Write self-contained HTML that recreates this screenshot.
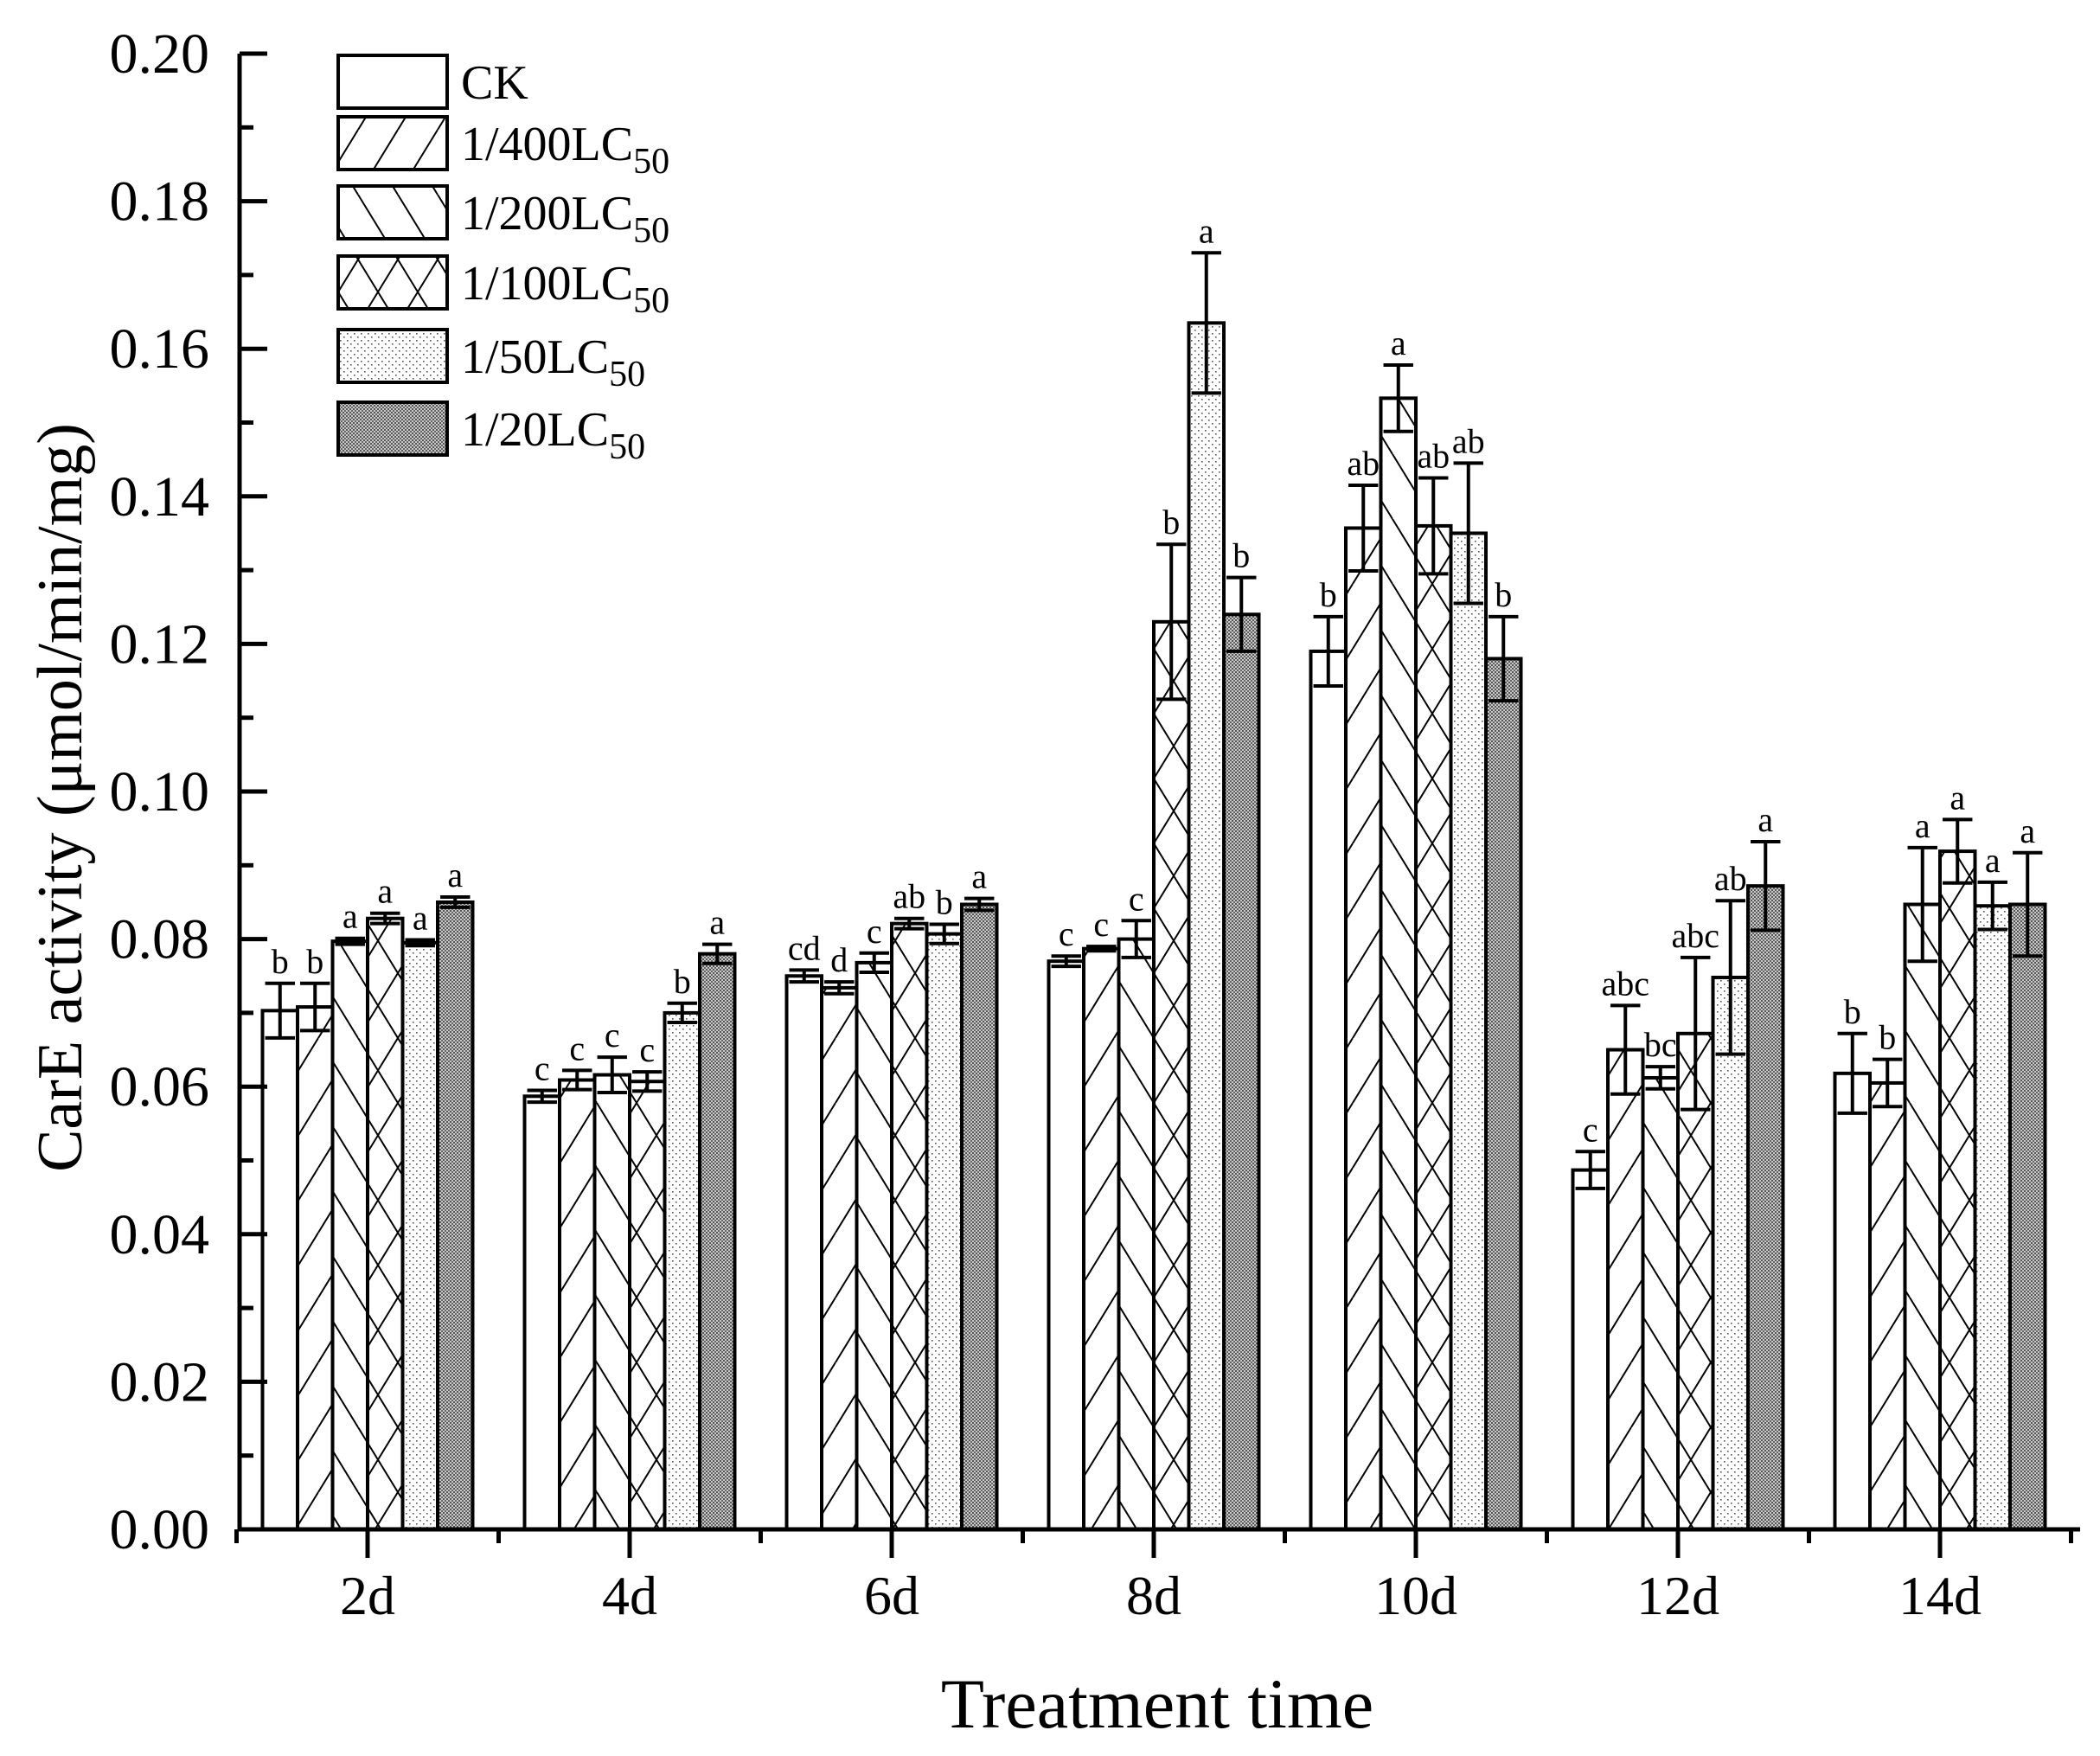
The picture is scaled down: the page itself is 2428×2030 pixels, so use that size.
<!DOCTYPE html>
<html><head><meta charset="utf-8"><style>
html,body{margin:0;padding:0;background:#fff;}
svg{display:block;font-family:"Liberation Serif",serif;}
</style></head><body>
<svg id="chart" width="2428" height="2030" viewBox="0 0 2428 2030" xmlns="http://www.w3.org/2000/svg">
<defs>
<pattern id="p400" patternUnits="userSpaceOnUse" width="46" height="75"><path d="M0,75 L46,0 M-23,37.5 L0,0 M23,112.5 L46,75 M46,75 L69,37.5" stroke="#000" stroke-width="2"/></pattern>
<pattern id="p200" patternUnits="userSpaceOnUse" width="46" height="75"><path d="M0,0 L46,75 M-23,37.5 L0,75 M23,-37.5 L46,0 M46,0 L69,37.5" stroke="#000" stroke-width="2"/></pattern>
<pattern id="p100" patternUnits="userSpaceOnUse" width="46" height="75"><path d="M0,75 L46,0 M0,0 L46,75" stroke="#000" stroke-width="2"/></pattern>
<pattern id="p50" patternUnits="userSpaceOnUse" width="8" height="8"><rect width="8" height="8" fill="#fff"/><rect x="1" y="1" width="1.6" height="1.6" fill="#555"/><rect x="5" y="5" width="1.6" height="1.6" fill="#555"/></pattern>
<pattern id="p20" patternUnits="userSpaceOnUse" width="4" height="4"><rect width="4" height="4" fill="#c8c8c8"/><rect x="0" y="0" width="2" height="2" fill="#555"/><rect x="2" y="2" width="2" height="2" fill="#666"/></pattern>
</defs>
<g id="plot"></g>
</svg>
<script>
const categories = ["2d","4d","6d","8d","10d","12d","14d"];
const seriesNames = ["CK","1/400LC","1/200LC","1/100LC","1/50LC","1/20LC"];
const valCK   = [0.0703,0.0587,0.0750,0.0770,0.1190,0.0487,0.0618];
const val400  = [0.0708,0.0609,0.0734,0.0787,0.1357,0.0650,0.0605];
const val200  = [0.0797,0.0616,0.0768,0.0800,0.1533,0.0612,0.0847];
const val100  = [0.0828,0.0607,0.0821,0.1230,0.1360,0.0672,0.0919];
const val50   = [0.0795,0.0700,0.0807,0.1635,0.1350,0.0748,0.0845];
const val20   = [0.0850,0.0780,0.0847,0.1240,0.1180,0.0872,0.0847];
const errCK   = [0.0037,0.0008,0.0008,0.0007,0.0047,0.0025,0.0054];
const err400  = [0.0032,0.0013,0.0008,0.0003,0.0058,0.0060,0.0032];
const err200  = [0.0004,0.0024,0.0013,0.0025,0.0045,0.0015,0.0077];
const err100  = [0.0007,0.0013,0.0007,0.0105,0.0065,0.0103,0.0043];
const err50   = [0.0004,0.0013,0.0013,0.0095,0.0095,0.0104,0.0032];
const err20   = [0.0007,0.0013,0.0008,0.0050,0.0057,0.0060,0.0070];
const lettersCK  = ["b","c","cd","c","b","c","b"];
const letters400 = ["b","c","d","c","ab","abc","b"];
const letters200 = ["a","c","c","c","a","bc","a"];
const letters100 = ["a","c","ab","b","ab","abc","a"];
const letters50  = ["a","b","b","a","ab","ab","a"];
const letters20  = ["a","a","a","b","b","a","a"];
const yTicks = ["0.00","0.02","0.04","0.06","0.08","0.10","0.12","0.14","0.16","0.18","0.20"];

const NS="http://www.w3.org/2000/svg";
const g=document.getElementById('plot');
function el(t,a,p){const e=document.createElementNS(NS,t);for(const k in a)e.setAttribute(k,a[k]);(p||g).appendChild(e);return e;}
const X0=277,Y0=1768,YTOP=62,XEND=2405,YMAX=0.2;
function y(v){return Y0-(v/YMAX)*(Y0-YTOP);}
const groupW=303,first=425,barW=40.5;
function gx(i){return first+i*groupW;}
function bx(i,s){return gx(i)-3*barW+s*barW;}
const vals=[valCK,val400,val200,val100,val50,val20];
const errs=[errCK,err400,err200,err100,err50,err20];
const lets=[lettersCK,letters400,letters200,letters100,letters50,letters20];
const fills=["#fff","url(#p400)","url(#p200)","url(#p100)","url(#p50)","url(#p20)"];
for(let i=0;i<categories.length;i++){
  for(let s=0;s<6;s++){
    const v=vals[s][i],e=errs[s][i],x=bx(i,s);
    const r=el('rect',{x:x,y:y(v),width:barW,height:Y0-y(v),fill:fills[s],stroke:'#000','stroke-width':4});
    
    
    const cx=x+barW/2,cw=barW*0.85;
    const eb=el('path',{d:`M${cx},${y(v+e)} L${cx},${y(v-e)} M${cx-cw/2},${y(v+e)} L${cx+cw/2},${y(v+e)} M${cx-cw/2},${y(v-e)} L${cx+cw/2},${y(v-e)}`,stroke:'#000','stroke-width':4,fill:'none'});
    
    
    const t=el('text',{x:cx,y:y(v+e)-12,'font-size':40,'text-anchor':'middle'});
    t.textContent=lets[s][i];
    
    
  }
}
const ax=el('path',{d:`M${X0},${YTOP} L${X0},${Y0} L${XEND},${Y0}`,stroke:'#000','stroke-width':5,fill:'none'});


for(let k=0;k<yTicks.length;k++){
  const v=k*0.02,yy=y(v);
  el('line',{x1:X0,x2:X0+32,y1:yy,y2:yy,stroke:'#000','stroke-width':5});
  if(k<yTicks.length-1){const ym=y(v+0.01);el('line',{x1:X0,x2:X0+16,y1:ym,y2:ym,stroke:'#000','stroke-width':5});}
  const t=el('text',{x:242,y:yy+22,'font-size':66,'text-anchor':'end'});
  t.textContent=yTicks[k];
  
  
}
for(let i=0;i<categories.length;i++){
  const cx=gx(i);
  el('line',{x1:cx,x2:cx,y1:Y0,y2:Y0+33,stroke:'#000','stroke-width':5});
  el('line',{x1:cx-groupW/2,x2:cx-groupW/2,y1:Y0,y2:Y0+16,stroke:'#000','stroke-width':5});
  const t=el('text',{x:cx,y:1866,'font-size':64,'text-anchor':'middle'});
  t.textContent=categories[i];
  
  
}
el('line',{x1:gx(6)+groupW/2,x2:gx(6)+groupW/2,y1:Y0,y2:Y0+16,stroke:'#000','stroke-width':5});
const xt=el('text',{x:1338,y:1997,'font-size':82,'text-anchor':'middle'});
xt.textContent='Treatment time';


const yt=el('text',{x:0,y:0,'font-size':74,'text-anchor':'middle',transform:'translate(94,922) rotate(-90)'});
yt.textContent='CarE activity (μmol/min/mg)';


const legY=[64,135,215,296,381,465];
for(let s=0;s<6;s++){
  const r=el('rect',{x:391,y:legY[s],width:126,height:61,fill:fills[s],stroke:'#000','stroke-width':4});
  
  
  const t=el('text',{x:533,y:legY[s]+50,'font-size':56});
  
  
  t.appendChild(document.createTextNode(seriesNames[s]));
  if(s>0){const sub=el('tspan',{'font-size':42,dy:15},t);sub.textContent='50';}
}
</script>
</body></html>
